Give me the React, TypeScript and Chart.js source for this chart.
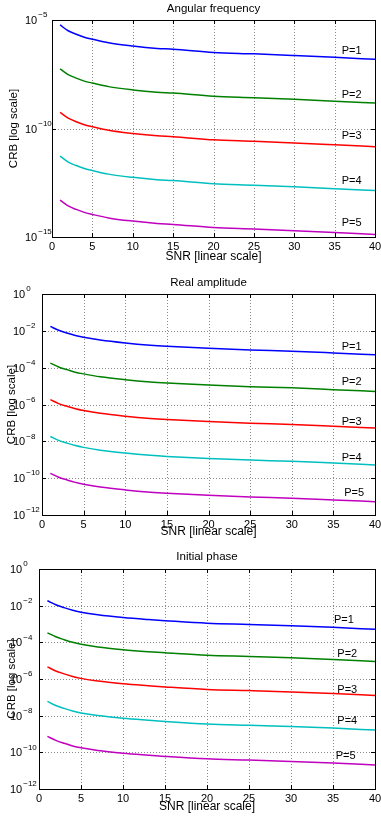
import React, { useEffect, useRef } from 'react';
import { Chart, registerables } from 'chart.js';
Chart.register(...registerables);

const FONT = "'Liberation Sans', Arial, Helvetica, sans-serif";

// SNR sample points (linear scale)
const SNR = [1, 2, 3, 4, 5, 7, 10, 13, 15, 20, 25, 30, 35, 40];
const X_TICKS = [0, 5, 10, 15, 20, 25, 30, 35, 40];
const SERIES_NAMES = ['P=1', 'P=2', 'P=3', 'P=4', 'P=5'];
const COLORS = ['#0000ff', '#008000', '#ff0000', '#00bfbf', '#bf00bf'];

// Panel 1: Angular frequency
const FREQ_P1 = [5.9e-6, 3.2e-6, 2.2e-6, 1.6e-6, 1.3e-6, 8.9e-7, 6.3e-7, 4.9e-7, 4.5e-7, 3.2e-7, 2.75e-7, 2.3e-7, 1.9e-7, 1.55e-7];
const FREQ_P2 = [5.6e-8, 3.06e-8, 2.1e-8, 1.53e-8, 1.24e-8, 8.5e-9, 6.0e-9, 4.7e-9, 4.3e-9, 3.06e-9, 2.63e-9, 2.2e-9, 1.81e-9, 1.48e-9];
const FREQ_P3 = [5.5e-10, 3.0e-10, 2.05e-10, 1.49e-10, 1.21e-10, 8.3e-11, 5.9e-11, 4.6e-11, 4.2e-11, 3.0e-11, 2.57e-11, 2.15e-11, 1.77e-11, 1.45e-11];
const FREQ_P4 = [5.3e-12, 2.85e-12, 1.96e-12, 1.43e-12, 1.16e-12, 7.9e-13, 5.6e-13, 4.4e-13, 4.0e-13, 2.85e-13, 2.45e-13, 2.05e-13, 1.69e-13, 1.38e-13];
const FREQ_P5 = [5.0e-14, 2.72e-14, 1.87e-14, 1.36e-14, 1.1e-14, 7.6e-15, 5.4e-15, 4.2e-15, 3.8e-15, 2.72e-15, 2.34e-15, 1.96e-15, 1.6e-15, 1.32e-15];
const FREQ_Y_TICKS = [1e-15, 1e-10, 1e-5];
const FREQ_LABEL_X = [37.1, 37.1, 37.1, 37.1, 37.1];
const FREQ_LABEL_Y = [3.7e-7, 3.5e-9, 4.3e-11, 3.7e-13, 4.5e-15];

// Panel 2: Real amplitude
const AMP_P1 = [1.74e-2, 1.07e-2, 7.6e-3, 5.6e-3, 4.5e-3, 3.16e-3, 2.19e-3, 1.66e-3, 1.45e-3, 1.12e-3, 9.1e-4, 7.8e-4, 6.3e-4, 5.0e-4];
const AMP_P2 = [1.77e-4, 1.09e-4, 7.8e-5, 5.7e-5, 4.6e-5, 3.2e-5, 2.23e-5, 1.69e-5, 1.48e-5, 1.14e-5, 9.3e-6, 8.0e-6, 6.4e-6, 5.1e-6];
const AMP_P3 = [1.83e-6, 1.12e-6, 8.0e-7, 5.9e-7, 4.7e-7, 3.3e-7, 2.3e-7, 1.74e-7, 1.52e-7, 1.18e-7, 9.6e-8, 8.2e-8, 6.6e-8, 5.25e-8];
const AMP_P4 = [1.83e-8, 1.12e-8, 8.0e-9, 5.9e-9, 4.7e-9, 3.3e-9, 2.3e-9, 1.74e-9, 1.52e-9, 1.18e-9, 9.6e-10, 8.2e-10, 6.6e-10, 5.25e-10];
const AMP_P5 = [1.83e-10, 1.12e-10, 8.0e-11, 5.9e-11, 4.7e-11, 3.3e-11, 2.3e-11, 1.74e-11, 1.52e-11, 1.18e-11, 9.6e-12, 8.2e-12, 6.6e-12, 5.25e-12];
const AMP_Y_TICKS = [1e-12, 1e-10, 1e-8, 1e-6, 1e-4, 1e-2, 1];
const AMP_LABEL_X = [37.2, 37.2, 37.2, 37.2, 37.5];
const AMP_LABEL_Y = [1.26e-3, 1.58e-5, 1.1e-7, 1.32e-9, 1.5e-11];

// Panel 3: Initial phase
const PHASE_P1 = [1.86e-2, 1.12e-2, 7.8e-3, 5.6e-3, 4.4e-3, 3.16e-3, 2.24e-3, 1.74e-3, 1.51e-3, 1.10e-3, 9.5e-4, 8.1e-4, 6.6e-4, 5.1e-4];
const PHASE_P2 = [3.3e-4, 2.0e-4, 1.39e-4, 1.0e-4, 7.8e-5, 5.6e-5, 4.0e-5, 3.1e-5, 2.7e-5, 1.96e-5, 1.69e-5, 1.44e-5, 1.17e-5, 9.1e-6];
const PHASE_P3 = [4.6e-6, 2.74e-6, 1.91e-6, 1.37e-6, 1.08e-6, 7.7e-7, 5.5e-7, 4.3e-7, 3.7e-7, 2.7e-7, 2.33e-7, 1.98e-7, 1.62e-7, 1.25e-7];
const PHASE_P4 = [6.0e-8, 3.6e-8, 2.5e-8, 1.79e-8, 1.41e-8, 1.01e-8, 7.2e-9, 5.6e-9, 4.8e-9, 3.5e-9, 3.0e-9, 2.6e-9, 2.1e-9, 1.63e-9];
const PHASE_P5 = [7.4e-10, 4.5e-10, 3.1e-10, 2.24e-10, 1.76e-10, 1.26e-10, 9.0e-11, 7.0e-11, 6.0e-11, 4.4e-11, 3.8e-11, 3.2e-11, 2.64e-11, 2.04e-11];
const PHASE_Y_TICKS = [1e-12, 1e-10, 1e-8, 1e-6, 1e-4, 1e-2, 1];
const PHASE_LABEL_X = [36.3, 36.7, 36.7, 36.7, 36.5];
const PHASE_LABEL_Y = [1.66e-3, 2.34e-5, 2.57e-7, 4.9e-9, 6.0e-11];

const X_TITLE = 'SNR [linear scale]';
const Y_TITLE = 'CRB [log scale]';

type PanelCfg = {
  title: string;
  series: number[][];
  yTicks: number[];
  labelX: number[];
  labelY: number[];
  H: number; L: number; T: number; R: number; B: number;
  baseX: number; titleY: number; xlabelY: number; ylabelX: number;
};

const PANELS: PanelCfg[] = [
  { title: 'Angular frequency', series: [FREQ_P1, FREQ_P2, FREQ_P3, FREQ_P4, FREQ_P5], yTicks: FREQ_Y_TICKS,
    labelX: FREQ_LABEL_X, labelY: FREQ_LABEL_Y,
    H: 272, L: 52, T: 20, R: 375, B: 237, baseX: 25, titleY: 9, xlabelY: 257, ylabelX: 13.5 },
  { title: 'Real amplitude', series: [AMP_P1, AMP_P2, AMP_P3, AMP_P4, AMP_P5], yTicks: AMP_Y_TICKS,
    labelX: AMP_LABEL_X, labelY: AMP_LABEL_Y,
    H: 272, L: 42, T: 22, R: 375, B: 243, baseX: 13, titleY: 11, xlabelY: 260, ylabelX: 12 },
  { title: 'Initial phase', series: [PHASE_P1, PHASE_P2, PHASE_P3, PHASE_P4, PHASE_P5], yTicks: PHASE_Y_TICKS,
    labelX: PHASE_LABEL_X, labelY: PHASE_LABEL_Y,
    H: 272, L: 39, T: 25, R: 375, B: 245, baseX: 10, titleY: 12.7, xlabelY: 263, ylabelX: 11.5 },
];

const matlabPlugin = {
  id: 'matlab',
  beforeDatasetsDraw(chart: any, _args: any, opts: any) {
    const { ctx, chartArea: a, scales } = chart;
    const cfg: PanelCfg = opts.cfg;
    ctx.save();
    ctx.strokeStyle = '#8a8a8a';
    ctx.lineWidth = 1;
    ctx.setLineDash([1, 2]);
    ctx.beginPath();
    for (const v of X_TICKS) {
      if (v <= 0 || v >= 40) continue;
      const px = Math.round(scales.x.getPixelForValue(v)) + 0.5;
      ctx.moveTo(px, a.top);
      ctx.lineTo(px, a.bottom);
    }
    for (const v of cfg.yTicks) {
      const py = Math.round(scales.y.getPixelForValue(v)) + 0.5;
      if (py <= a.top + 1 || py >= a.bottom - 1) continue;
      ctx.moveTo(a.left, py);
      ctx.lineTo(a.right, py);
    }
    ctx.stroke();
    ctx.restore();
  },
  afterDraw(chart: any, _args: any, opts: any) {
    const { ctx, chartArea: a, scales } = chart;
    const cfg: PanelCfg = opts.cfg;
    ctx.save();
    ctx.setLineDash([]);
    ctx.strokeStyle = '#000';
    ctx.lineWidth = 1;
    ctx.strokeRect(Math.round(a.left) + 0.5, Math.round(a.top) + 0.5, Math.round(a.right - a.left), Math.round(a.bottom - a.top));
    const tl = 4;
    ctx.beginPath();
    for (const v of X_TICKS) {
      const px = Math.round(scales.x.getPixelForValue(v)) + 0.5;
      ctx.moveTo(px, a.bottom); ctx.lineTo(px, a.bottom - tl);
      ctx.moveTo(px, a.top); ctx.lineTo(px, a.top + tl);
    }
    for (const v of cfg.yTicks) {
      const py = Math.round(scales.y.getPixelForValue(v)) + 0.5;
      ctx.moveTo(a.left, py); ctx.lineTo(a.left + tl, py);
      ctx.moveTo(a.right, py); ctx.lineTo(a.right - tl, py);
    }
    ctx.stroke();

    ctx.fillStyle = '#000';
    // y tick labels 10^e
    for (const v of cfg.yTicks) {
      const py = scales.y.getPixelForValue(v);
      const e = Math.round(Math.log10(v));
      ctx.font = `11px ${FONT}`;
      ctx.textAlign = 'left';
      ctx.textBaseline = 'middle';
      ctx.fillText('10', cfg.baseX, py + 1);
      const w = ctx.measureText('10').width;
      ctx.font = `8px ${FONT}`;
      ctx.fillText(e < 0 ? '\u2212' + (-e) : String(e), cfg.baseX + w + 1, py - 5);
    }
    // title
    const cx = (a.left + a.right) / 2;
    ctx.font = `11.5px ${FONT}`;
    ctx.textAlign = 'center';
    ctx.textBaseline = 'middle';
    ctx.fillText(cfg.title, cx, cfg.titleY);
    // x label
    ctx.font = `12px ${FONT}`;
    ctx.fillText(X_TITLE, cx, cfg.xlabelY);
    // y label
    ctx.save();
    ctx.translate(cfg.ylabelX, (a.top + a.bottom) / 2);
    ctx.rotate(-Math.PI / 2);
    ctx.font = `11.5px ${FONT}`;
    ctx.fillText(Y_TITLE, 0, 0);
    ctx.restore();
    // series labels
    ctx.font = `11px ${FONT}`;
    SERIES_NAMES.forEach((name, i) => {
      const px = scales.x.getPixelForValue(cfg.labelX[i]);
      const py = scales.y.getPixelForValue(cfg.labelY[i]);
      ctx.fillText(name, px, py);
    });
    ctx.restore();
  },
};

function Panel({ cfg, top }: { cfg: PanelCfg; top: number }) {
  const ref = useRef<HTMLCanvasElement>(null);
  useEffect(() => {
    const W = 381;
    const chart = new Chart(ref.current as HTMLCanvasElement, {
      type: 'line',
      data: {
        datasets: cfg.series.map((vals, i) => ({
          label: SERIES_NAMES[i],
          data: SNR.map((s, j) => ({ x: s, y: vals[j] })),
          borderColor: COLORS[i],
          borderWidth: 1.5,
          pointRadius: 0,
          fill: false,
          cubicInterpolationMode: 'monotone' as const,
        })),
      },
      options: {
        responsive: false,
        animation: false,
        events: [],
        layout: { padding: { top: cfg.T, right: W - cfg.R, bottom: 0, left: 0 } },
        plugins: {
          legend: { display: false },
          title: { display: false },
          tooltip: { enabled: false },
          matlab: { cfg },
        } as any,
        scales: {
          x: {
            type: 'linear',
            min: 0,
            max: 40,
            grid: { display: false, drawTicks: false, tickLength: 0 },
            border: { display: false },
            ticks: {
              stepSize: 5,
              color: '#000',
              font: { size: 11, family: FONT },
              padding: 3,
              maxRotation: 0,
              autoSkip: false,
            },
            afterFit: (s: any) => {
              s.height = cfg.H - cfg.B;
              s.paddingLeft = 0;
              s.paddingRight = 0;
            },
          },
          y: {
            type: 'logarithmic',
            min: cfg.yTicks[0],
            max: cfg.yTicks[cfg.yTicks.length - 1],
            grid: { display: false, drawTicks: false, tickLength: 0 },
            border: { display: false },
            ticks: { display: false },
            afterBuildTicks: (s: any) => {
              s.ticks = cfg.yTicks.map((v) => ({ value: v }));
            },
            afterFit: (s: any) => {
              s.width = cfg.L;
              s.paddingTop = 0;
              s.paddingBottom = 0;
            },
          },
        } as any,
      },
      plugins: [matlabPlugin],
    });
    return () => chart.destroy();
  }, []);
  return (
    <canvas
      ref={ref}
      width={381}
      height={cfg.H}
      style={{ position: 'absolute', left: 0, top, width: 381, height: cfg.H, display: 'block' }}
    />
  );
}

export default function App() {
  return (
    <div style={{ position: 'absolute', left: 0, top: 0, width: 381, height: 816, background: '#fff' }}>
      {PANELS.map((cfg, i) => (
        <Panel key={i} cfg={cfg} top={i * 272} />
      ))}
    </div>
  );
}
